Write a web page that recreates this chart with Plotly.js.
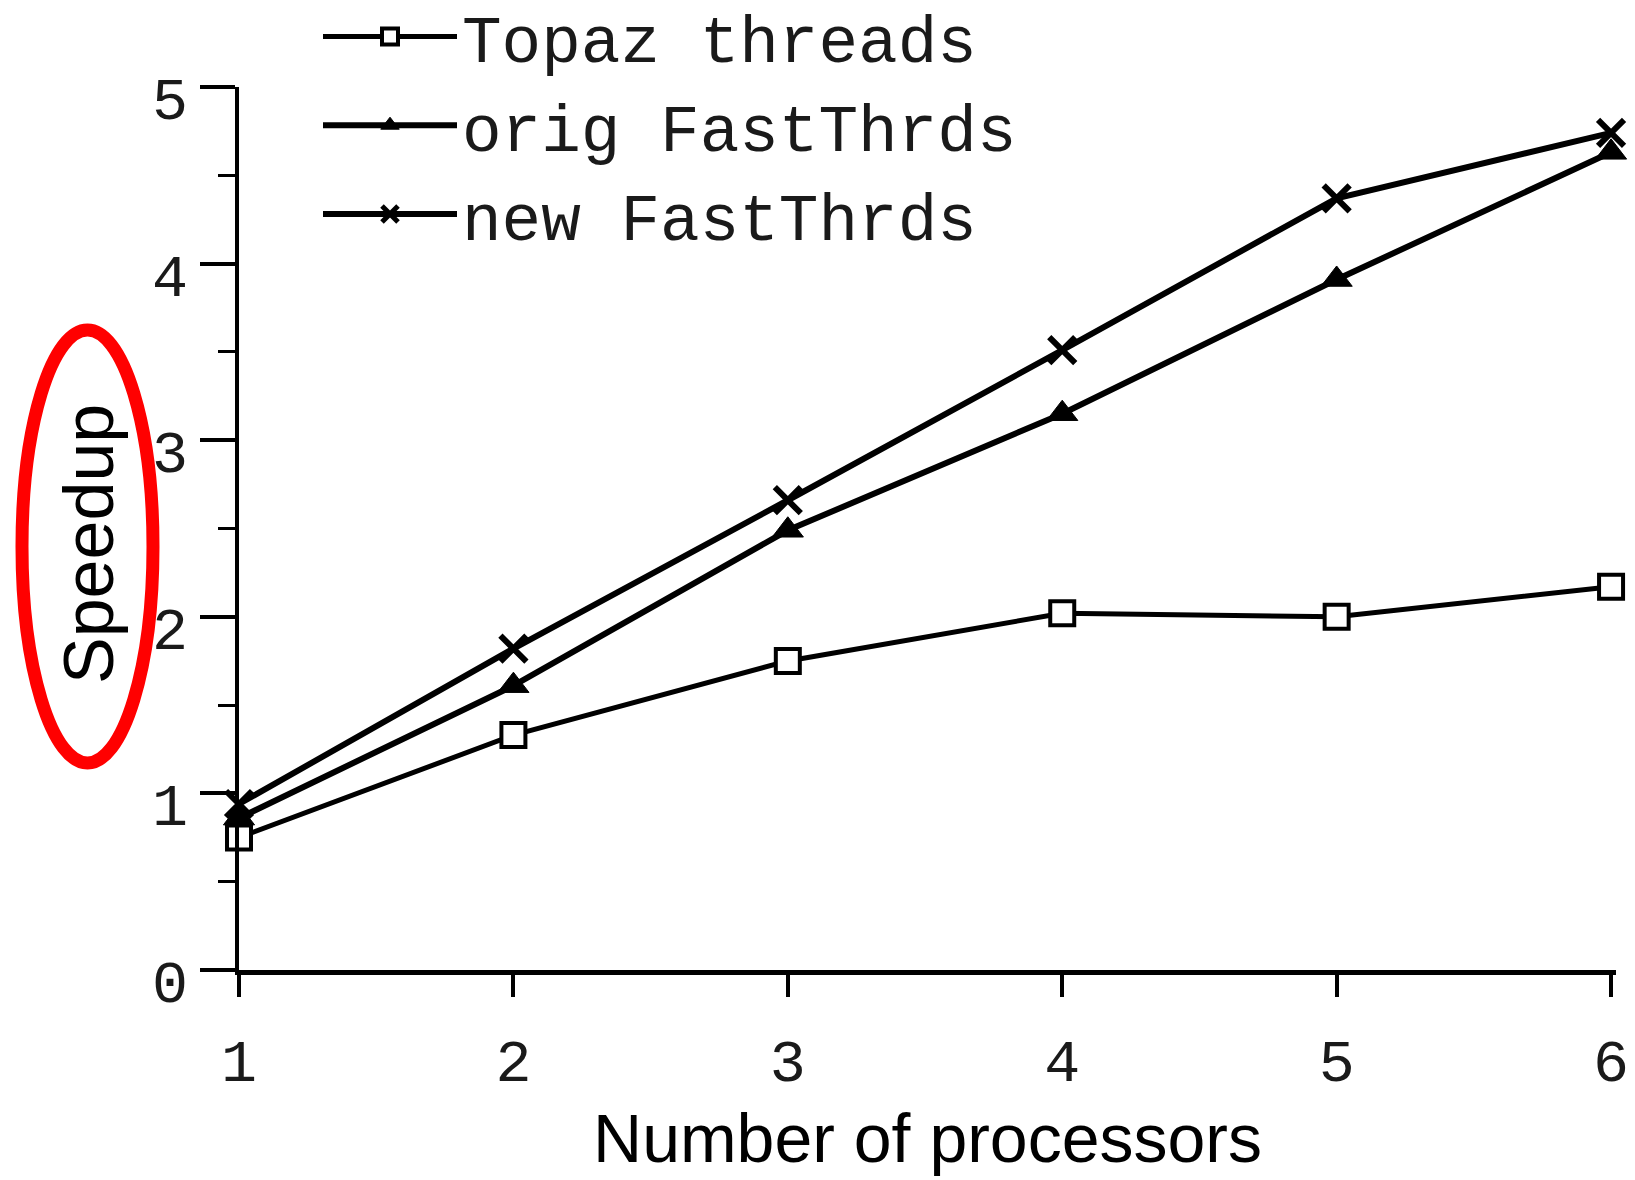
<!DOCTYPE html>
<html>
<head>
<meta charset="utf-8">
<script src="https://cdn.plot.ly/plotly-3.0.1.min.js"></script>
<style>html,body{margin:0;padding:0;background:#fff;}#chart{width:1635px;height:1180px;}</style>
</head>
<body>
<div id="chart"></div>
<script>
const processors = [1, 2, 3, 4, 5, 6];
const topazThreads = [0.75, 1.33, 1.75, 2.02, 2.00, 2.17];
const origFastThrds = [0.86, 1.61, 2.49, 3.15, 3.91, 4.63];
const newFastThrds = [0.94, 1.82, 2.66, 3.51, 4.37, 4.74];
const seriesNames = ["Topaz threads", "orig FastThrds", "new FastThrds"];
const xTicks = [1, 2, 3, 4, 5, 6];
const yTicks = [0, 1, 2, 3, 4, 5];
const xTitle = "Number of processors";
const yTitle = "Speedup";

const W = 1635, H = 1180;
const mL = 239, mR = 19, mT = 87, mB = 210;
const pw = W - mL - mR, ph = H - mT - mB;
function px2paperX(p) { return (p - mL) / pw; }
function px2paperY(p) { return (H - mB - p) / ph; }

const mono = "Liberation Mono, Courier New, monospace";
const sans = "Liberation Sans, Arial, sans-serif";

const traces = [
  {
    x: processors, y: topazThreads, name: seriesNames[0], type: "scatter", mode: "lines+markers",
    line: {color: "#000", width: 5},
    marker: {symbol: "square", size: 24, color: "#fff", line: {color: "#000", width: 4}},
    cliponaxis: false
  },
  {
    x: processors, y: origFastThrds, name: seriesNames[1], type: "scatter", mode: "lines+markers",
    line: {color: "#000", width: 6},
    marker: {symbol: "triangle-up", size: 27, color: "#000", line: {color: "#000", width: 1}},
    cliponaxis: false
  },
  {
    x: processors, y: newFastThrds, name: seriesNames[2], type: "scatter", mode: "lines+markers",
    line: {color: "#000", width: 6},
    marker: {symbol: "x-thin", size: 26, color: "#000", line: {color: "#000", width: 6}},
    cliponaxis: false
  }
];

const layout = {
  width: W, height: H,
  margin: {l: mL, r: mR, t: mT, b: mB, pad: 0, autoexpand: false},
  paper_bgcolor: "#fff", plot_bgcolor: "#fff",
  showlegend: true,
  legend: {
    x: px2paperX(318), xref: "paper", y: px2paperY(-13), yref: "paper",
    xanchor: "left", yanchor: "top",
    font: {family: mono, size: 66, color: "#1a1a1a"},
    bgcolor: "rgba(0,0,0,0)", itemwidth: 134, tracegroupgap: 0
  },
  xaxis: {
    range: [1, 6.018],
    tickmode: "array", tickvals: xTicks, ticktext: xTicks.map(String),
    showgrid: false, zeroline: false,
    showline: true, linecolor: "#000", linewidth: 5,
    ticks: "outside", ticklen: 22, tickwidth: 4, tickcolor: "#000",
    ticklabelstandoff: 12,
    tickfont: {family: mono, size: 60, color: "#1a1a1a"},
    automargin: false,
    title: {text: xTitle, font: {family: sans, size: 68, color: "#000"}, standoff: 18}
  },
  yaxis: {
    range: [0, 5.0],
    tickmode: "array", tickvals: yTicks, ticktext: yTicks.map(String),
    showgrid: false, zeroline: false,
    showline: true, linecolor: "#000", linewidth: 4,
    ticks: "outside", ticklen: 35, tickwidth: 4, tickcolor: "#000",
    minor: {dtick: 0.5, tick0: 0, ticks: "outside", ticklen: 17, tickwidth: 3, tickcolor: "#000", showgrid: false},
    ticklabelstandoff: 0, ticklabelshift: 11,
    tickfont: {family: mono, size: 60, color: "#1a1a1a"},
    automargin: false
  },
  annotations: [
    {
      text: yTitle, xref: "paper", yref: "paper",
      x: px2paperX(89), y: px2paperY(544), xanchor: "center", yanchor: "middle",
      textangle: -90, showarrow: false,
      font: {family: sans, size: 70, color: "#000"}
    }
  ],
  shapes: [
    {
      type: "circle", xref: "paper", yref: "paper",
      x0: px2paperX(22), x1: px2paperX(153),
      y0: px2paperY(763), y1: px2paperY(330),
      line: {color: "#ff0000", width: 13}, fillcolor: "rgba(0,0,0,0)"
    }
  ]
};

Plotly.newPlot("chart", traces, layout, {displayModeBar: false, staticPlot: true});
</script>
</body>
</html>
